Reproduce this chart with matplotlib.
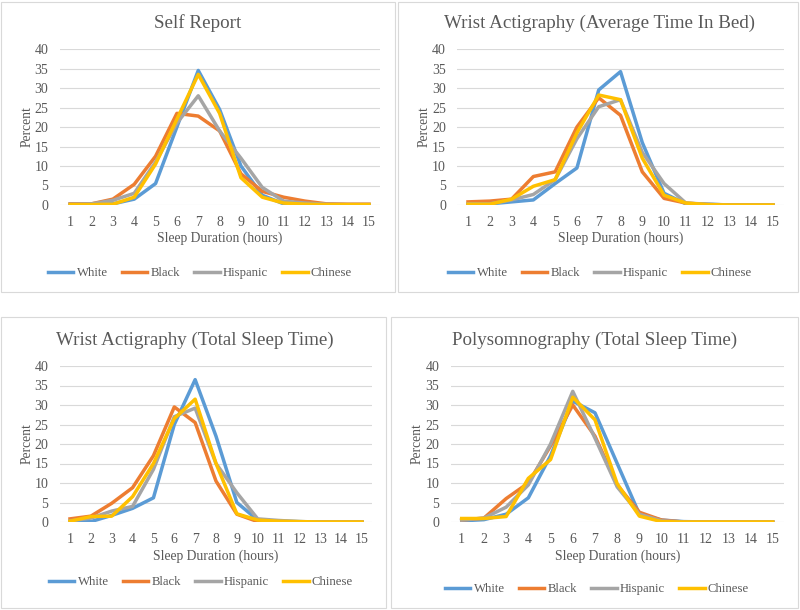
import matplotlib.pyplot as plt
from matplotlib.patches import Rectangle

hours = list(range(1, 16))
groups = ['White', 'Black', 'Hispanic', 'Chinese']
colors = ['#5B9BD5', '#ED7D31', '#A5A5A5', '#FFC000']

titles = ['Self Report',
          'Wrist Actigraphy (Average Time In Bed)',
          'Wrist Actigraphy (Total Sleep Time)',
          'Polysomnography (Total Sleep Time)']

# percent of participants per sleep-duration hour
self_white = [0.2, 0.2, 0.3, 1.5, 5.5, 20.0, 34.5, 24.5, 10.0, 2.5, 0.3, 0.2, 0.1, 0.1, 0.1]
self_black = [0.3, 0.3, 1.5, 5.3, 12.5, 23.5, 22.8, 19.0, 8.0, 3.5, 2.0, 1.0, 0.3, 0.2, 0.2]
self_hisp = [0.2, 0.3, 1.2, 3.0, 11.0, 21.0, 28.0, 19.0, 12.0, 4.5, 1.0, 0.5, 0.2, 0.1, 0.1]
self_chin = [0.1, 0.1, 0.2, 2.0, 10.5, 22.0, 33.5, 23.5, 7.0, 2.0, 0.5, 0.2, 0.1, 0.1, 0.1]

tib_white = [0.2, 0.3, 0.8, 1.3, 5.5, 9.5, 29.5, 34.2, 16.0, 3.0, 0.3, 0.2, 0.0, 0.0, 0.0]
tib_black = [0.8, 1.0, 1.5, 7.3, 8.5, 20.0, 27.5, 23.0, 8.5, 1.7, 0.5, 0.1, 0.0, 0.0, 0.0]
tib_hisp = [0.3, 0.3, 1.3, 2.7, 6.5, 17.0, 25.2, 27.0, 13.5, 5.5, 0.5, 0.2, 0.0, 0.0, 0.0]
tib_chin = [0.2, 0.2, 1.5, 4.8, 6.5, 18.5, 28.2, 27.0, 12.0, 2.5, 0.5, 0.1, 0.0, 0.0, 0.0]

tst_white = [0.1, 0.1, 1.7, 3.5, 6.2, 25.0, 36.5, 22.0, 5.0, 0.5, 0.2, 0.1, 0.0, 0.0, 0.0]
tst_black = [0.8, 1.5, 4.8, 8.8, 17.0, 29.5, 25.5, 10.5, 2.0, 0.1, 0.0, 0.0, 0.0, 0.0, 0.0]
tst_hisp = [0.3, 1.0, 2.8, 4.0, 13.5, 27.0, 29.2, 15.0, 7.5, 0.8, 0.4, 0.1, 0.0, 0.0, 0.0]
tst_chin = [0.2, 1.4, 1.5, 6.5, 15.0, 26.5, 31.5, 15.0, 2.1, 0.5, 0.2, 0.1, 0.0, 0.0, 0.0]

psg_white = [0.3, 0.6, 2.0, 6.2, 17.0, 31.0, 28.0, 15.0, 2.0, 0.5, 0.1, 0.0, 0.0, 0.0, 0.0]
psg_black = [0.5, 1.0, 6.0, 10.0, 19.5, 30.0, 22.0, 9.5, 2.5, 0.5, 0.0, 0.0, 0.0, 0.0, 0.0]
psg_hisp = [0.5, 1.0, 3.8, 9.5, 20.0, 33.5, 21.5, 9.0, 2.0, 0.3, 0.0, 0.0, 0.0, 0.0, 0.0]
psg_chin = [0.9, 0.9, 1.4, 11.2, 16.0, 32.0, 26.2, 9.8, 1.5, 0.1, 0.0, 0.0, 0.0, 0.0, 0.0]

panels = [
    [self_white, self_black, self_hisp, self_chin],
    [tib_white, tib_black, tib_hisp, tib_chin],
    [tst_white, tst_black, tst_hisp, tst_chin],
    [psg_white, psg_black, psg_hisp, psg_chin],
]

W, H = 800, 610
# layout in pixels: axes (left, top, right, bottom), frame boxes, text anchors
ax_px = [(59.5, 49, 379.7, 205), (457.1, 49, 783.9, 205),
         (59.6, 366, 372.4, 522), (450.6, 366, 783.8, 522)]
box_px = [(1, 2, 395, 292), (398, 2, 798, 292),
          (1, 317, 386, 608), (391, 317, 798, 608)]
title_px = [(198, 23), (600, 23), (195, 340), (595, 340)]
ylab_x = [27, 424, 27, 417]
xlab_y = [238, 238, 556, 556]
leg_px = [(200, 273), (600, 273), (201, 582), (597, 589)]

plt.rcParams['font.family'] = ['Liberation Serif', 'DejaVu Serif']
txt = '#595959'

fig = plt.figure(figsize=(8, 6.1), dpi=100)

for (l, t, r, b) in box_px:
    fig.patches.append(Rectangle((l / W, 1 - b / H), (r - l) / W, (b - t) / H,
                                 transform=fig.transFigure, facecolor='none',
                                 edgecolor='#D9D9D9', linewidth=0.8))

for i, data in enumerate(panels):
    l, t, r, b = ax_px[i]
    ax = fig.add_axes([l / W, 1 - b / H, (r - l) / W, (b - t) / H])
    for vals, name, c in zip(data, groups, colors):
        ax.plot(hours, vals, color=c, lw=2.5, label=name)
    ax.set_xlim(0.5, 15.5)
    ax.set_ylim(0, 40)
    ax.set_xticks(hours)
    ax.set_yticks(range(0, 41, 5))
    ax.grid(axis='y', color='#D9D9D9', lw=0.8)
    ax.set_axisbelow(True)
    for s in ax.spines.values():
        s.set_visible(False)
    ax.tick_params(length=0, labelsize=10, labelcolor=txt, pad=8)

    tx, ty = title_px[i]
    fig.text(tx / W, 1 - ty / H, titles[i], fontsize=13.7, color=txt,
             ha='center', va='center')
    ax.set_xlabel('Sleep Duration (hours)', fontsize=9.8, color=txt)
    ax.xaxis.set_label_coords(0.5, (b - xlab_y[i]) / (b - t))
    ax.xaxis.label.set_va('center')
    ax.set_ylabel('Percent', fontsize=9.8, color=txt)
    ax.yaxis.set_label_coords((ylab_x[i] - l) / (r - l), 0.5)
    ax.yaxis.label.set_va('center')

    lx, ly = leg_px[i]
    ax.legend(loc='center', bbox_to_anchor=(lx / W, 1 - ly / H),
              bbox_transform=fig.transFigure, ncol=4, frameon=False,
              fontsize=9.2, labelcolor=txt, handlelength=2.0,
              handletextpad=0.25, columnspacing=1.1)

fig.savefig('out.png', dpi=100, facecolor='white')
